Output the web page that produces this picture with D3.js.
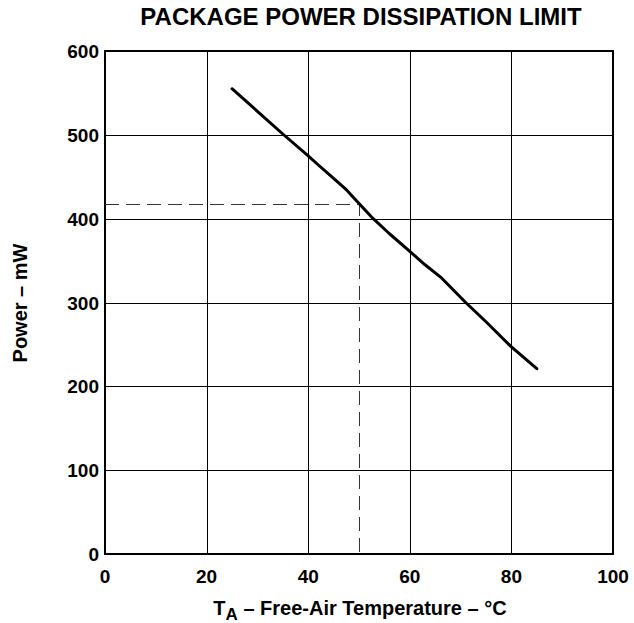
<!DOCTYPE html>
<html>
<head>
<meta charset="utf-8">
<script src="https://cdn.jsdelivr.net/npm/d3@7"></script>
<style>
  body { margin: 0; background: #fff; }
  text { font-family: "Liberation Sans", Arial, sans-serif; font-weight: bold; fill: #000; }
</style>
</head>
<body>
<script>
// curve: temperature (°C) and power (mW)
var temps = [25, 30, 35, 40, 42, 45, 47.6, 50, 52.8, 56, 60, 63, 66.3, 71, 75, 80, 85];
var power = [555, 528, 501, 475, 464, 448, 434, 418, 400, 382, 361, 345, 329, 300, 277, 247, 221];
var xTicks = [0, 20, 40, 60, 80, 100];
var yTicks = [0, 100, 200, 300, 400, 500, 600];
var markT = 50, markP = 418;

var width = 634, height = 623;
var plotLeft = 105, plotRight = 613, plotTop = 51, plotBottom = 554;

var svg = d3.select('body').append('svg')
  .attr('width', width)
  .attr('height', height);

var x = d3.scaleLinear().domain([0, 100]).range([plotLeft, plotRight]);
var y = d3.scaleLinear().domain([0, 600]).range([plotBottom, plotTop]);

// grid
svg.append('g').selectAll('line')
  .data(xTicks.slice(1, -1))
  .enter().append('line')
  .attr('x1', function(d){ return Math.round(x(d)) + 0.5; })
  .attr('x2', function(d){ return Math.round(x(d)) + 0.5; })
  .attr('y1', plotTop).attr('y2', plotBottom)
  .attr('stroke', '#000').attr('stroke-width', 1);

svg.append('g').selectAll('line')
  .data(yTicks.slice(1, -1))
  .enter().append('line')
  .attr('y1', function(d){ return Math.round(y(d)) + 0.5; })
  .attr('y2', function(d){ return Math.round(y(d)) + 0.5; })
  .attr('x1', plotLeft).attr('x2', plotRight)
  .attr('stroke', '#000').attr('stroke-width', 1);

// frame
svg.append('rect')
  .attr('x', plotLeft).attr('y', plotTop)
  .attr('width', plotRight - plotLeft).attr('height', plotBottom - plotTop)
  .attr('fill', 'none').attr('stroke', '#000').attr('stroke-width', 2);

// dashed marker at 50 °C
svg.append('path')
  .attr('d', 'M' + x(0) + ',' + (Math.round(y(markP)) + 0.5) + 'H' + (Math.round(x(markT)) + 0.5) + 'V' + y(0))
  .attr('fill', 'none')
  .attr('stroke', '#333')
  .attr('stroke-width', 1)
  .attr('stroke-dasharray', '14,7');

// curve
var line = d3.line()
  .x(function(d){ return x(d[0]); })
  .y(function(d){ return y(d[1]); });

svg.append('path')
  .datum(d3.zip(temps, power))
  .attr('d', line)
  .attr('fill', 'none')
  .attr('stroke', '#000')
  .attr('stroke-width', 3)
  .attr('stroke-linecap', 'round')
  .attr('stroke-linejoin', 'round');

// tick labels
svg.append('g').selectAll('text')
  .data(xTicks)
  .enter().append('text')
  .attr('x', function(d){ return x(d); })
  .attr('y', 583)
  .attr('text-anchor', 'middle')
  .style('font-size', '19px')
  .text(function(d){ return d; });

svg.append('g').selectAll('text')
  .data(yTicks)
  .enter().append('text')
  .attr('x', 99)
  .attr('y', function(d){ return y(d) + 7; })
  .attr('text-anchor', 'end')
  .style('font-size', '19px')
  .text(function(d){ return d; });

// title
svg.append('text')
  .attr('x', 361).attr('y', 25)
  .attr('text-anchor', 'middle')
  .style('font-size', '24px')
  .text('PACKAGE POWER DISSIPATION LIMIT');

// x label
var xl = svg.append('text')
  .attr('x', 360).attr('y', 615)
  .attr('text-anchor', 'middle')
  .style('font-size', '20px');
xl.append('tspan').text('T');
xl.append('tspan').attr('dy', 5).style('font-size', '17px').text('A');
xl.append('tspan').attr('dy', -5).text(' – Free-Air Temperature – °C');

// y label
svg.append('text')
  .attr('transform', 'translate(27,' + 303 + ') rotate(-90)')
  .attr('text-anchor', 'middle')
  .style('font-size', '20px')
  .text('Power – mW');
</script>
</body>
</html>
